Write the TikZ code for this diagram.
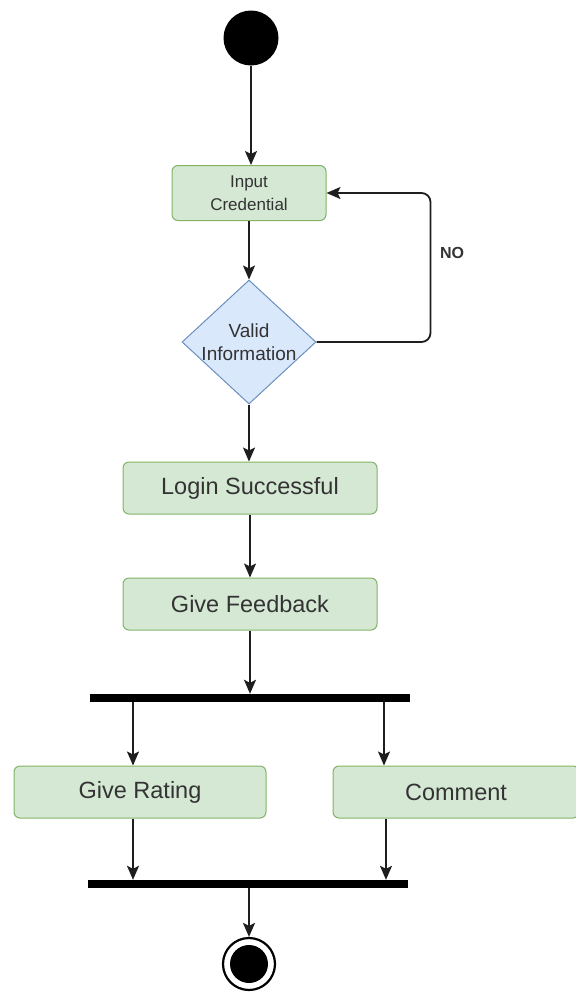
\documentclass[tikz,border=0pt]{standalone}
\usepackage{fontspec}
\setmainfont{Liberation Sans}
\usetikzlibrary{shapes.geometric,arrows.meta}
\definecolor{actfill}{HTML}{D5E8D4}
\definecolor{actline}{HTML}{82B366}
\definecolor{decfill}{HTML}{DAE8FC}
\definecolor{decline}{HTML}{6C8EBF}
\definecolor{ink}{HTML}{333333}
\definecolor{wire}{HTML}{1E1E1E}
\tikzset{
  activity/.style={draw=actline, fill=actfill, line width=1pt, rounded corners=6pt,
    inner sep=0pt, minimum height=52pt, text=ink, font=\fontsize{23.5}{27}\selectfont, align=center},
  smallact/.style={activity, font=\fontsize{17}{23}\selectfont},
  decision/.style={draw=decline, fill=decfill, line width=1pt, diamond, inner sep=0pt,
    minimum width=134pt, minimum height=124pt},
  bar/.style={fill=black, draw=none, inner sep=0pt, minimum height=8pt},
  arr/.style={draw=wire, line width=1.8pt, -{Stealth[length=14pt,width=12pt,inset=3pt]}},
  lbl/.style={font=\fontsize{19}{23}\selectfont, text=ink, align=center, inner sep=0pt}
}
\begin{document}
\begin{tikzpicture}[x=1pt,y=-1pt]
  \useasboundingbox (0,0) rectangle (576,1005);

  % initial node
  \node[circle, fill=black, minimum size=55pt, inner sep=0pt] (start) at (251,38) {};

  % login part
  \node[smallact, minimum width=154pt, minimum height=55pt] (input) at (249,193) {Input\\Credential};
  \node[decision] (valid) at (249,342) {};
  \node[lbl] (validtext) at (249,342) {Valid\\Information};
  \node[font=\bfseries\fontsize{16}{19}\selectfont, text=ink] (no) at (452,253) {NO};

  \node[activity, minimum width=254pt] (login) at (250,488) {Login Successful};
  \node[activity, minimum width=254pt] (feed) at (250,604) {Give Feedback};

  % fork, parallel activities, join
  \node[bar, minimum width=320pt] (fork) at (250,698) {};
  \node[activity, minimum width=252pt] (rating) at (140,792) {Give Rating};
  \node[activity, minimum width=246pt] (comment) at (456,792) {Comment};
  \node[bar, minimum width=320pt] (join) at (248,884) {};

  % final node
  \node[circle, draw=black, line width=2.2pt, fill=white, minimum size=52pt, inner sep=0pt] (final) at (249,964) {};
  \node[circle, fill=black, minimum size=38pt, inner sep=0pt] (finaldot) at (249,964) {};

  % connectors
  \draw[arr] (start.south) -- (input.north -| start.south);
  \draw[arr] (input.south) -- (valid.north);
  \draw[arr, rounded corners=9pt] (valid.east) -- ++(114,0) |- (input.east);
  \draw[arr] (valid.south) -- (login.north -| valid.south);
  \draw[arr] (login.south) -- (feed.north);
  \draw[arr] (feed.south) -- (fork.north -| feed.south);
  \draw[arr] (fork.south -| 133,0) -- (rating.north -| 133,0);
  \draw[arr] (fork.south -| 384,0) -- (comment.north -| 384,0);
  \draw[arr] (rating.south -| 133,0) -- (join.north -| 133,0);
  \draw[arr] (comment.south -| 386,0) -- (join.north -| 386,0);
  \draw[arr] (join.south -| final.north) -- (final.north);
\end{tikzpicture}
\end{document}
